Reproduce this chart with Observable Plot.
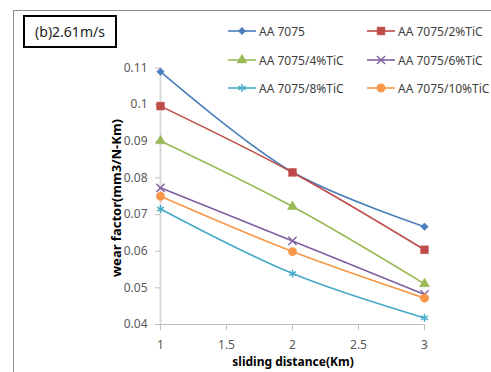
<!DOCTYPE html>
<html><head><meta charset="utf-8">
<script src="https://cdn.jsdelivr.net/npm/d3@7"></script>
<script src="https://cdn.jsdelivr.net/npm/@observablehq/plot@0.6"></script>
<style>
body{margin:0;background:#fff;}
#wrap{position:relative;width:491px;height:372px;overflow:hidden;font-family:"Noto Sans",sans-serif;background:#fff;}
#frame{position:absolute;left:13px;top:10px;width:600px;height:500px;border-left:1.5px solid #8c8c8c;border-top:1.5px solid #8c8c8c;box-sizing:border-box;}
#tag{position:absolute;left:23px;top:15px;width:94px;height:33px;border:2.5px solid #000;box-sizing:border-box;font-size:14px;color:#222;display:flex;align-items:center;justify-content:center;}
.lg{position:absolute;display:flex;align-items:center;font-size:12px;color:#404040;white-space:nowrap;}
.ytitle{position:absolute;left:116px;top:198px;transform:translate(-50%,-50%) rotate(-90deg);font-weight:bold;font-size:13px;color:#000;white-space:nowrap;}
.xtitle{position:absolute;left:293px;top:362px;transform:translate(-50%,-50%);font-weight:bold;font-size:12px;color:#000;white-space:nowrap;line-height:14px;}
#chart{position:absolute;left:0;top:0;}
</style></head><body><div id="wrap"><div id="frame"></div><div id="chart"></div></div>
<script>
// ---- data ----
const distance = [1, 2, 3];
const seriesNames = ["AA 7075", "AA 7075/2%TiC", "AA 7075/4%TiC", "AA 7075/6%TiC", "AA 7075/8%TiC", "AA 7075/10%TiC"];
const aa7075 = [0.1090, 0.0816, 0.0667];
const tic2   = [0.0996, 0.0815, 0.0604];
const tic4   = [0.0901, 0.0722, 0.0511];
const tic6   = [0.0773, 0.0628, 0.0482];
const tic8   = [0.0715, 0.0539, 0.0418];
const tic10  = [0.0750, 0.0599, 0.0472];
const yTicks = [0.04, 0.05, 0.06, 0.07, 0.08, 0.09, 0.1, 0.11];
const xTicks = [1, 1.5, 2, 2.5, 3];
const tagText = "(b)2.61m/s";
const yTitle = "wear factor(mm3/N-Km)";
const xTitle = "sliding distance(Km)";

// ---- styles ----
const colors = ["#4a7ebb", "#be4b48", "#98b954", "#7d60a0", "#46aac5", "#f79646"];
const symbols = ["diamond2", "square", "triangle", "times", "asterisk", "circle"];
const filled = [true, true, true, false, false, true];
const radii = [3.4, 4.4, 3.7, 3.8, 3.8, 4.2];

const valuesList = [aa7075, tic2, tic4, tic6, tic8, tic10];
const series = seriesNames.map((name, i) => ({
  name, color: colors[i], symbol: symbols[i], filled: filled[i], r: radii[i],
  data: distance.map((d, j) => ({distance: d, value: valuesList[i][j], series: name}))
}));

const marks = [
  Plot.ruleX([1], {stroke: "#d9d9d9", strokeWidth: 2}),
  Plot.ruleY([0.04], {stroke: "#bfbfbf", strokeWidth: 1}),
  Plot.axisX({ticks: xTicks, tickSize: 6, tickPadding: 10, stroke: "#bfbfbf", fill: "#595959", fontSize: 12, label: null, tickFormat: d => String(d)}),
  Plot.axisY({ticks: yTicks, tickSize: 5, tickPadding: 8, stroke: "#bfbfbf", fill: "#595959", fontSize: 12, label: null, tickFormat: d => String(+d.toFixed(2))})
];
for (const s of series) {
  marks.push(Plot.line(s.data, {x: "distance", y: "value", stroke: s.color, strokeWidth: 1.6, curve: "catmull-rom"}));
}
for (const s of series) {
  marks.push(Plot.dot(s.data, {x: "distance", y: "value", symbol: () => s.symbol, r: s.r,
    fill: s.filled ? s.color : "none", stroke: s.color, strokeWidth: s.filled ? 0.5 : 1.4}));
}

const plot = Plot.plot({
  width: 491, height: 372,
  marginLeft: 160, marginRight: 67, marginTop: 67.5, marginBottom: 48,
  x: {domain: [1, 3]},
  y: {domain: [0.04, 0.11]},
  symbol: {type: "identity"},
  style: {background: "transparent", fontFamily: "Noto Sans, sans-serif"},
  marks
});
document.getElementById("chart").appendChild(plot);

const wrap = document.getElementById("wrap");
const tag = document.createElement("div");
tag.id = "tag"; tag.textContent = tagText; wrap.appendChild(tag);

const yt = document.createElement("div"); yt.className = "ytitle"; yt.textContent = yTitle; wrap.appendChild(yt);
const xt = document.createElement("div"); xt.className = "xtitle"; xt.textContent = xTitle; wrap.appendChild(xt);

// legend
const legendX = [228, 367];
const legendY = [31, 60, 88];
series.forEach((s, i) => {
  const col = i % 2, row = Math.floor(i / 2);
  const item = document.createElement("div");
  item.className = "lg";
  item.style.left = legendX[col] + "px";
  item.style.top = (legendY[row] - 9) + "px";
  item.style.height = "18px";
  const svg = d3.create("svg").attr("width", 28).attr("height", 18).style("margin-right", "3px");
  svg.append("line").attr("x1", 0).attr("x2", 28).attr("y1", 9).attr("y2", 9).attr("stroke", s.color).attr("stroke-width", 1.6);
  const symMap = {diamond2: d3.symbolDiamond2, square: d3.symbolSquare, triangle: d3.symbolTriangle, times: d3.symbolTimes, asterisk: d3.symbolAsterisk, circle: d3.symbolCircle};
  svg.append("path").attr("transform", "translate(14,9)")
    .attr("d", d3.symbol(symMap[s.symbol], s.r * s.r * Math.PI)())
    .attr("fill", s.filled ? s.color : "none").attr("stroke", s.color).attr("stroke-width", s.filled ? 0.5 : 1.4);
  item.appendChild(svg.node());
  const t = document.createElement("span"); t.textContent = s.name; item.appendChild(t);
  wrap.appendChild(item);
});
</script>
</body></html>
